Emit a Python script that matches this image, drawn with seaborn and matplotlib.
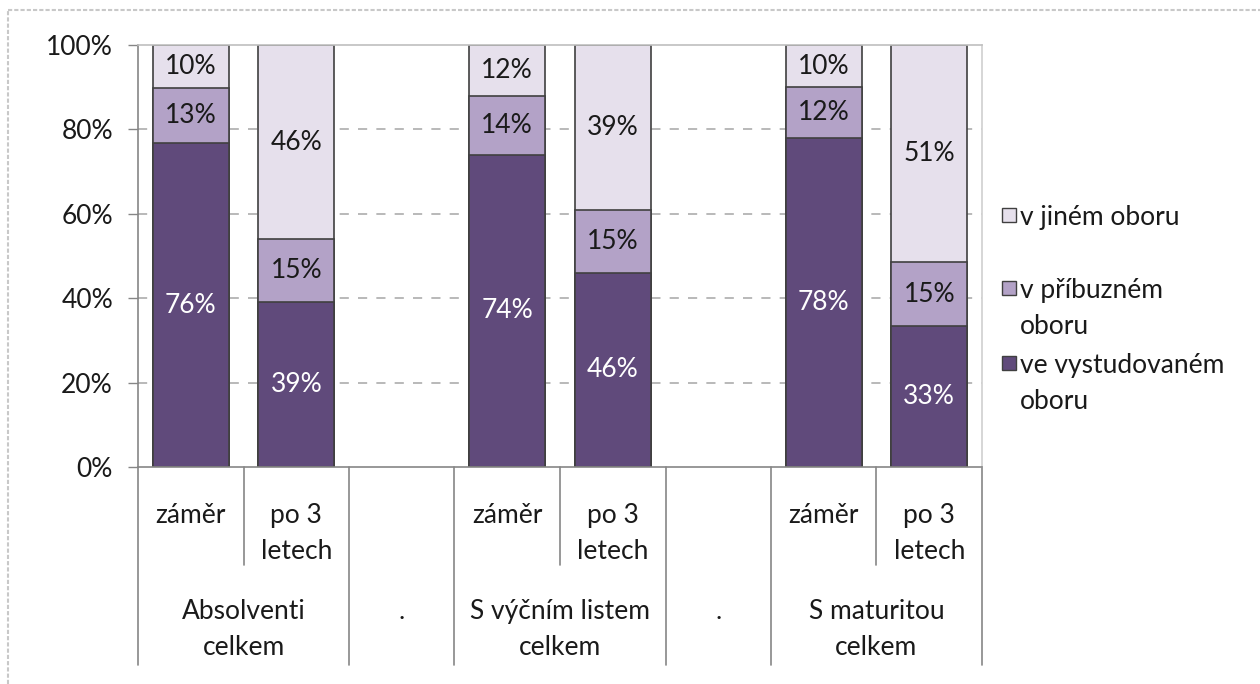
import matplotlib
matplotlib.use("Agg")
import matplotlib.pyplot as plt
import matplotlib.lines as mlines
import matplotlib.patches as mpatches
import seaborn as sns
import pandas as pd
import numpy as np

# data (percent shares as labelled in the chart)
groups = ["Absolventi\ncelkem", "S výčním listem\ncelkem", "S maturitou\ncelkem"]
subgroups = ["záměr", "po 3\nletech"]
series = ["ve vystudovaném\noboru", "v příbuzném\noboru", "v jiném oboru"]
dark = [76, 39, 74, 46, 78, 33]
mid = [13, 15, 14, 15, 12, 15]
light = [10, 46, 12, 39, 10, 51]

c_dark = "#604A7B"
c_mid = "#B3A2C7"
c_light = "#E6E0EC"
edge = "#404040"
axis_col = "#868686"
FS = 19

sns.set_style("white")
plt.rcParams["font.family"] = ["Lato", "DejaVu Sans"]

# slots: two bars per group with an empty spacer slot between groups
order = ["A1", "A2", "gap1", "B1", "B2", "gap2", "C1", "C2"]
bar_slots = ["A1", "A2", "B1", "B2", "C1", "C2"]
bar_pos = [order.index(s) for s in bar_slots]

d = np.array(dark, float)
m = np.array(mid, float)
l = np.array(light, float)
tot = d + m + l  # 100% stacked, as in Excel
df = pd.DataFrame({
    "slot": bar_slots,
    "dark": d / tot,
    "mid": (d + m) / tot,
    "light": (d + m + l) / tot,
})

fig = plt.figure(figsize=(12.6, 6.84), dpi=100)
W, H = 1260, 684
ax = fig.add_axes([138 / W, 1 - 467 / H, (982 - 138) / W, (467 - 45) / H])

for col, colr in [("light", c_light), ("mid", c_mid), ("dark", c_dark)]:
    sns.barplot(data=df, x="slot", y=col, order=order, color=colr, saturation=1,
                edgecolor=edge, linewidth=1.2, width=0.72, errorbar=None, ax=ax)

ax.set_xlim(-0.5, 7.5)
ax.set_ylim(0, 1)
ax.set_xlabel("")
ax.set_ylabel("")
ax.set_xticks([])
ax.set_yticks(np.arange(0, 1.01, 0.2))
ax.set_yticklabels([f"{int(round(v * 100))}%" for v in np.arange(0, 1.01, 0.2)])
ax.tick_params(axis="y", length=7, width=1, color=axis_col, pad=11, labelsize=FS,
               labelcolor="#1a1a1a", direction="out", left=True)
for y in [0.2, 0.4, 0.6, 0.8]:
    ax.axhline(y, color="#A6A6A6", lw=1.1, ls=(0, (6, 6)), zorder=0)
ax.spines["left"].set_color(axis_col)
ax.spines["bottom"].set_color(axis_col)
ax.spines["top"].set_color("#BFBFBF")
ax.spines["right"].set_color("#D0D0D0")
for s in ax.spines.values():
    s.set_linewidth(1.2)

# segment labels
for i, pos in enumerate(bar_pos):
    bottoms = [0, df["dark"][i], df["mid"][i]]
    tops = [df["dark"][i], df["mid"][i], df["light"][i]]
    vals = [dark[i], mid[i], light[i]]
    for b, t, v, tc in zip(bottoms, tops, vals, ["white", "#1a1a1a", "#1a1a1a"]):
        ax.text(pos, (b + t) / 2, f"{v}%", ha="center", va="center",
                fontsize=FS, color=tc)

# multi-level category axis
tr = ax.get_xaxis_transform()
def ay(py):
    return (467 - py) / (467 - 45)

for g, gname in enumerate(groups):
    base = g * 3
    for k, sname in enumerate(subgroups):
        ax.text(base + k, ay(503), sname, transform=tr, ha="center", va="top",
                fontsize=FS, color="#1a1a1a", linespacing=1.55)
    ax.text(base + 0.5, ay(599), gname, transform=tr, ha="center", va="top",
            fontsize=FS, color="#1a1a1a", linespacing=1.55)
    ax.add_line(mlines.Line2D([base + 0.5, base + 0.5], [0, ay(565)], transform=tr,
                              color=axis_col, lw=1.2, clip_on=False))
for gp in [2, 5]:
    ax.text(gp, ay(599), ".", transform=tr, ha="center", va="top",
            fontsize=FS, color="#1a1a1a")
for xb in [-0.5, 1.5, 2.5, 4.5, 5.5, 7.5]:
    ax.add_line(mlines.Line2D([xb, xb], [0, ay(665)], transform=tr,
                              color=axis_col, lw=1.2, clip_on=False))

# legend drawn by hand to mimic Excel layout
leg = [(c_light, series[2], 215), (c_mid, series[1], 288), (c_dark, series[0], 363)]
for colr, lab, cy in leg:
    fig.patches.append(mpatches.Rectangle((1002 / W, 1 - (cy + 7) / H), 14 / W, 14 / H,
                                          transform=fig.transFigure, facecolor=colr,
                                          edgecolor=edge, lw=1))
    fig.text(1020 / W, 1 - (cy - 10) / H, lab, ha="left", va="top", fontsize=FS,
             color="#1a1a1a", linespacing=1.55)

# outer chart border
fig.add_artist(mlines.Line2D([8 / W, 1], [1 - 10 / H, 1 - 10 / H], transform=fig.transFigure,
                             color="#C8C8C8", lw=1.5, ls=(0, (2, 1))))
fig.add_artist(mlines.Line2D([8 / W, 8 / W], [0, 1 - 10 / H], transform=fig.transFigure,
                             color="#C8C8C8", lw=1.5, ls=(0, (2, 1))))

fig.savefig("out.png", dpi=100)
